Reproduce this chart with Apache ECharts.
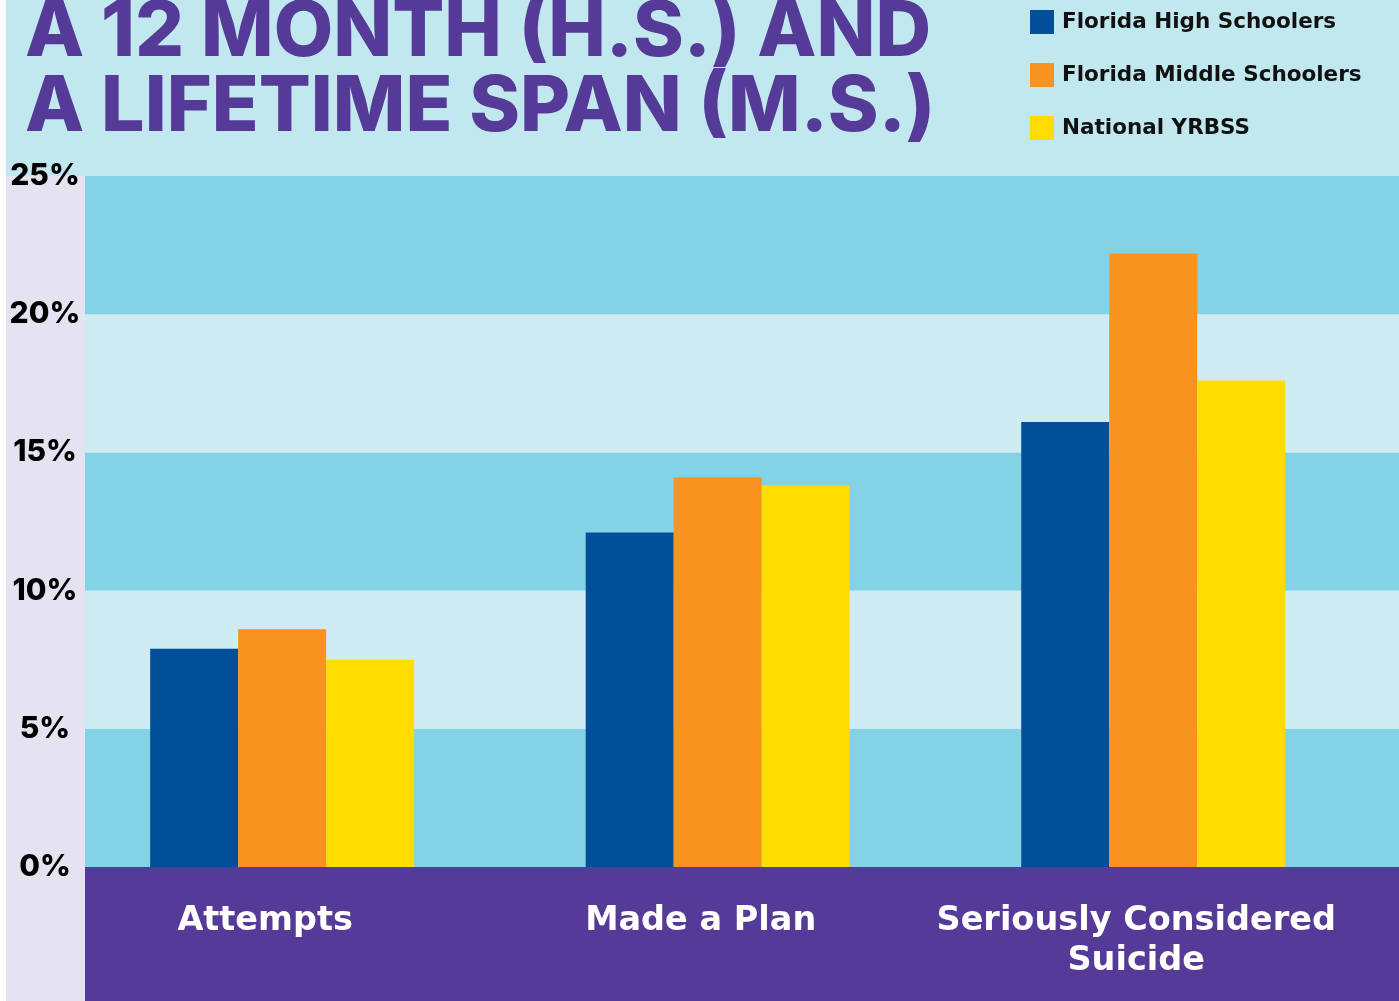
<!DOCTYPE html>
<html>
<head>
<meta charset="utf-8">
<script src="https://cdn.jsdelivr.net/npm/echarts@6/dist/echarts.min.js"></script>
<style>
html,body{margin:0;padding:0;background:#fff;}
#chart{width:1399px;height:1001px;}
</style>
</head>
<body>
<div id="chart"></div>
<script>
const categories = ['Attempts', 'Made a Plan', 'Seriously Considered\nSuicide'];
const seriesNames = ['Florida High Schoolers', 'Florida Middle Schoolers', 'National YRBSS'];
const highSchool = [7.9, 12.1, 16.1];
const middleSchool = [8.6, 14.1, 22.2];
const national = [7.5, 13.8, 17.6];
const yTicks = [0, 5, 10, 15, 20, 25];
const titleText = 'A 12 MONTH (H.S.) AND\nA LIFETIME SPAN (M.S.)';

const FONT = 'Inter';
const WIDE = 'DejaVu Sans';
const colors = ['#004f98', '#f7931e', '#ffdd00'];

const chart = echarts.init(document.getElementById('chart'), null, {renderer: 'canvas'});
const yMin = yTicks[0], yMax = yTicks[yTicks.length - 1], yStep = yTicks[1] - yTicks[0];

chart.setOption({
  backgroundColor: '#c2e8ef',
  animation: false,
  title: {
    text: titleText,
    left: 25, top: -5, padding: 0,
    textStyle: {fontFamily: FONT, fontWeight: 800, fontSize: 77, lineHeight: 75, color: '#553a97'}
  },
  legend: {
    orient: 'vertical', left: 1030, top: 10, padding: 0,
    itemWidth: 24, itemHeight: 24, itemGap: 29,
    icon: 'rect',
    data: seriesNames,
    textStyle: {fontFamily: WIDE, fontWeight: 'bold', fontSize: 21.5, color: '#111', padding: [0, 0, 0, 3]}
  },
  graphic: [
    {type: 'rect', z: 1, shape: {x: 0, y: 0, width: 6, height: 1001}, style: {fill: '#ffffff'}},
    {type: 'rect', z: 1, shape: {x: 6, y: 176, width: 79, height: 825}, style: {fill: '#e5e2f1'}},
    {type: 'rect', z: 1, shape: {x: 85, y: 867, width: 1314, height: 134}, style: {fill: '#553a97'}}
  ],
  grid: [
    {left: 85, right: 0, top: 176, bottom: 134},
    {left: 64.4, right: 28, top: 176, bottom: 134}
  ],
  xAxis: [
    {gridIndex: 0, type: 'category', data: categories, show: false},
    {gridIndex: 1, type: 'category', data: categories, z: 10,
     axisLine: {show: false}, axisTick: {show: false},
     axisLabel: {color: '#ffffff', fontFamily: WIDE, fontWeight: 'bold', fontSize: 33.5,
                 lineHeight: 40, margin: 34, padding: [0, 34, 0, 0], interval: 0}}
  ],
  yAxis: [
    {gridIndex: 0, type: 'value', min: yMin, max: yMax, interval: yStep, z: 3,
     axisLine: {show: false}, axisTick: {show: false}, splitLine: {show: false},
     splitArea: {show: true, areaStyle: {color: ['#84d2e6', '#cfecf4']}},
     axisLabel: {formatter: '{value}%', align: 'center', margin: 40, color: '#000',
                 fontFamily: FONT, fontWeight: 800, fontSize: 30}},
    {gridIndex: 1, type: 'value', min: yMin, max: yMax, interval: yStep, show: false,
     splitLine: {show: false}}
  ],
  series: [highSchool, middleSchool, national].map((d, i) => ({
    name: seriesNames[i], type: 'bar', xAxisIndex: 1, yAxisIndex: 1,
    data: d, barWidth: 88, barGap: '0%', itemStyle: {color: colors[i]}, z: 5
  }))
});
</script>
</body>
</html>
